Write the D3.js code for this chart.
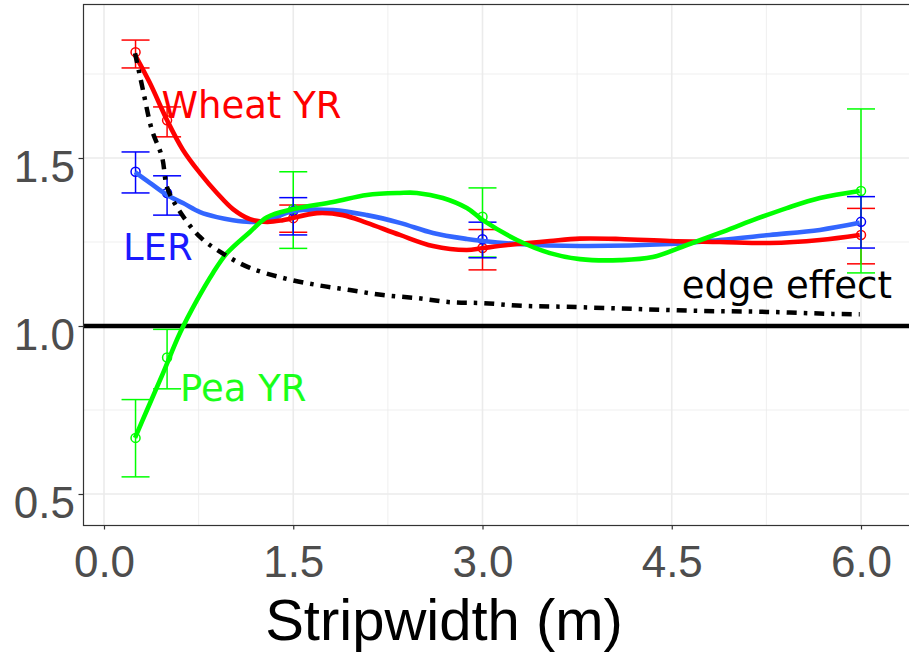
<!DOCTYPE html>
<html>
<head>
<meta charset="utf-8">
<script src="https://cdn.jsdelivr.net/npm/d3@7"></script>
<style>
  html, body { margin: 0; padding: 0; background: #fff; }
  svg { display: block; }
</style>
</head>
<body>
<svg id="chart" width="909" height="653"></svg>
<script>
// ---------- data ----------
const stripX = [0.25, 0.5, 1.5, 3, 6];

const wheatMean = [1.815, 1.612, 1.321, 1.232, 1.271];
const wheatLow  = [1.768, 1.563, 1.279, 1.167, 1.185];
const wheatHigh = [1.851, 1.652, 1.360, 1.287, 1.350];

const lerMean = [1.459, 1.396, 1.342, 1.258, 1.310];
const lerLow  = [1.396, 1.330, 1.271, 1.203, 1.232];
const lerHigh = [1.518, 1.447, 1.382, 1.309, 1.385];

const peaMean = [0.667, 0.906, 1.348, 1.325, 1.402];
const peaLow  = [0.551, 0.813, 1.231, 1.205, 1.158];
const peaHigh = [0.781, 0.990, 1.459, 1.411, 1.646];

// smoothed curves
const wheatSmoothX = [0.246, 0.364, 0.499, 0.626, 0.761, 0.895, 1.022, 1.157, 1.292, 1.418, 1.688, 1.894, 2.084, 2.345, 2.607, 2.876, 3.003, 3.273, 3.534, 3.772, 4.089, 4.485, 4.881, 5.277, 5.674, 5.990];
const wheatSmoothY = [1.807, 1.723, 1.613, 1.524, 1.455, 1.396, 1.348, 1.318, 1.310, 1.315, 1.336, 1.330, 1.307, 1.271, 1.238, 1.226, 1.232, 1.244, 1.253, 1.260, 1.259, 1.253, 1.250, 1.247, 1.256, 1.271];

const lerSmoothX = [0.246, 0.364, 0.499, 0.626, 0.761, 0.895, 1.022, 1.157, 1.292, 1.498, 1.815, 2.084, 2.345, 2.607, 2.876, 3.003, 3.273, 3.772, 4.485, 4.881, 5.277, 5.674, 5.990];
const lerSmoothY = [1.458, 1.426, 1.390, 1.366, 1.339, 1.324, 1.315, 1.310, 1.313, 1.342, 1.345, 1.330, 1.307, 1.277, 1.259, 1.253, 1.244, 1.238, 1.244, 1.256, 1.271, 1.286, 1.307];

const peaSmoothX = [0.246, 0.341, 0.468, 0.602, 0.737, 0.864, 0.975, 1.157, 1.292, 1.498, 1.815, 2.084, 2.345, 2.480, 2.686, 2.876, 3.003, 3.273, 3.534, 3.772, 4.089, 4.350, 4.620, 4.881, 5.143, 5.412, 5.674, 5.990];
const peaSmoothY = [0.667, 0.750, 0.860, 0.979, 1.077, 1.158, 1.217, 1.280, 1.324, 1.348, 1.369, 1.390, 1.396, 1.396, 1.381, 1.351, 1.315, 1.256, 1.217, 1.199, 1.196, 1.205, 1.241, 1.277, 1.315, 1.351, 1.381, 1.402];

const edgeX = [0.246, 0.309, 0.380, 0.460, 0.499, 0.578, 0.761, 0.975, 1.157, 1.418, 1.688, 1.949, 2.211, 2.480, 2.742, 3.003, 3.320, 3.669, 4.192, 4.723, 5.254, 5.777, 5.990];
const edgeY = [1.812, 1.702, 1.583, 1.503, 1.414, 1.354, 1.265, 1.208, 1.173, 1.143, 1.122, 1.107, 1.092, 1.083, 1.071, 1.068, 1.060, 1.057, 1.051, 1.045, 1.042, 1.036, 1.035];

const xTicks = [0, 1.5, 3, 4.5, 6];
const xTickLabels = ["0.0", "1.5", "3.0", "4.5", "6.0"];
const xMinor = [0.75, 2.25, 3.75, 5.25];
const yTicks = [0.5, 1.0, 1.5];
const yTickLabels = ["0.5", "1.0", "1.5"];
const yMinor = [0.75, 1.25, 1.75];
const refLine = 1.0;

const labels = [
  {text: "Wheat YR", x: 0.455, y: 1.620, color: "#FF0000"},
  {text: "LER", x: 0.150, y: 1.196, color: "#1A1AFF"},
  {text: "Pea YR", x: 0.602, y: 0.778, color: "#1AFF1A"},
  {text: "edge effect", x: 4.580, y: 1.083, color: "#000000"}
];
const xTitle = "Stripwidth (m)";

// ---------- layout ----------
const svg = d3.select("#chart");
const panel = {left: 83, top: 4, right: 930, bottom: 525};
const x = d3.scaleLinear().domain([0, 6]).range([104, 861]);
const y = d3.scaleLinear().domain([0.5, 1.5]).range([494, 158]);

svg.append("rect").attr("x", 0).attr("y", 0).attr("width", 909).attr("height", 653).attr("fill", "#fff");

const clipId = "panelClip";
svg.append("defs").append("clipPath").attr("id", clipId)
  .append("rect").attr("x", panel.left).attr("y", panel.top)
  .attr("width", panel.right - panel.left).attr("height", panel.bottom - panel.top);

const g = svg.append("g").attr("clip-path", `url(#${clipId})`);

// grid
g.selectAll(".xminor").data(xMinor).enter().append("line")
  .attr("x1", d => x(d)).attr("x2", d => x(d)).attr("y1", panel.top).attr("y2", panel.bottom)
  .attr("stroke", "#EBEBEB").attr("stroke-width", 0.8);
g.selectAll(".yminor").data(yMinor).enter().append("line")
  .attr("y1", d => y(d)).attr("y2", d => y(d)).attr("x1", panel.left).attr("x2", panel.right)
  .attr("stroke", "#EBEBEB").attr("stroke-width", 0.8);
g.selectAll(".xmajor").data(xTicks).enter().append("line")
  .attr("x1", d => x(d)).attr("x2", d => x(d)).attr("y1", panel.top).attr("y2", panel.bottom)
  .attr("stroke", "#EBEBEB").attr("stroke-width", 1.6);
g.selectAll(".ymajor").data(yTicks).enter().append("line")
  .attr("y1", d => y(d)).attr("y2", d => y(d)).attr("x1", panel.left).attr("x2", panel.right)
  .attr("stroke", "#EBEBEB").attr("stroke-width", 1.6);

// reference line
g.append("line").attr("x1", panel.left).attr("x2", panel.right)
  .attr("y1", y(refLine)).attr("y2", y(refLine))
  .attr("stroke", "#000").attr("stroke-width", 4.5);

// error bars + points
function errBars(mean, low, high, color) {
  const data = stripX.map((d, i) => ({x: d, m: mean[i], lo: low[i], hi: high[i]}));
  const eg = g.append("g");
  eg.selectAll(".v").data(data).enter().append("line")
    .attr("x1", d => x(d.x)).attr("x2", d => x(d.x))
    .attr("y1", d => y(d.lo)).attr("y2", d => y(d.hi))
    .attr("stroke", color).attr("stroke-width", 1.5);
  ["lo", "hi"].forEach(k => {
    eg.selectAll(".c" + k).data(data).enter().append("line")
      .attr("x1", d => x(d.x) - 14).attr("x2", d => x(d.x) + 14)
      .attr("y1", d => y(d[k])).attr("y2", d => y(d[k]))
      .attr("stroke", color).attr("stroke-width", 1.5);
  });
  eg.selectAll("circle").data(data).enter().append("circle")
    .attr("cx", d => x(d.x)).attr("cy", d => y(d.m)).attr("r", 4.5)
    .attr("fill", "none").attr("stroke", color).attr("stroke-width", 1.5);
}
errBars(wheatMean, wheatLow, wheatHigh, "#FF0000");
errBars(peaMean, peaLow, peaHigh, "#00FF00");
errBars(lerMean, lerLow, lerHigh, "#0000FF");

// smooth lines
const line = d3.line().x(d => x(d[0])).y(d => y(d[1])).curve(d3.curveCatmullRom.alpha(0.5));
function smooth(xs, ys, color) {
  g.append("path").datum(xs.map((d, i) => [d, ys[i]]))
    .attr("d", line).attr("fill", "none").attr("stroke", color)
    .attr("stroke-width", 4.6).attr("stroke-linejoin", "round").attr("stroke-linecap", "butt");
}
smooth(lerSmoothX, lerSmoothY, "#3366FF");
smooth(wheatSmoothX, wheatSmoothY, "#FF0000");
smooth(peaSmoothX, peaSmoothY, "#00FF00");

// edge effect dot-dash
g.append("path").datum(edgeX.map((d, i) => [d, edgeY[i]]))
  .attr("d", line).attr("fill", "none").attr("stroke", "#000")
  .attr("stroke-width", 4.5).attr("stroke-dasharray", "10,7,3.5,7").attr("stroke-linecap", "butt");

// labels
g.selectAll(".lab").data(labels).enter().append("text")
  .attr("x", d => x(d.x)).attr("y", d => y(d.y))
  .attr("fill", d => d.color)
  .attr("font-family", "DejaVu Sans")
  .attr("font-size", 37)
  .text(d => d.text);

// panel border
svg.append("rect").attr("x", panel.left + 0.5).attr("y", panel.top + 0.5)
  .attr("width", panel.right - panel.left).attr("height", panel.bottom - panel.top)
  .attr("fill", "none").attr("stroke", "#333333").attr("stroke-width", 1.2);

// axes
const xAxis = svg.append("g").attr("transform", `translate(0,${panel.bottom})`)
  .call(d3.axisBottom(x).tickValues(xTicks).tickFormat((d, i) => xTickLabels[i]).tickSize(4.5).tickPadding(22));
const yAxis = svg.append("g").attr("transform", `translate(${panel.left},0)`)
  .call(d3.axisLeft(y).tickValues(yTicks).tickFormat((d, i) => yTickLabels[i]).tickSize(4.5).tickPadding(3.5));
[xAxis, yAxis].forEach(a => {
  a.select(".domain").remove();
  a.selectAll(".tick line").attr("stroke", "#333333").attr("stroke-width", 1.2);
  a.selectAll(".tick text").attr("fill", "#4D4D4D")
    .attr("font-family", "Liberation Sans, Arial, sans-serif").attr("font-size", 44);
});
xAxis.selectAll(".tick text").attr("dy", null).attr("y", 52);
yAxis.selectAll(".tick text").attr("dy", null).attr("y", 23);

// axis title
svg.append("text").attr("x", 444).attr("y", 640).attr("text-anchor", "middle")
  .attr("font-family", "Liberation Sans, Arial, sans-serif").attr("font-size", 58)
  .attr("fill", "#000").text(xTitle);
</script>
</body>
</html>
